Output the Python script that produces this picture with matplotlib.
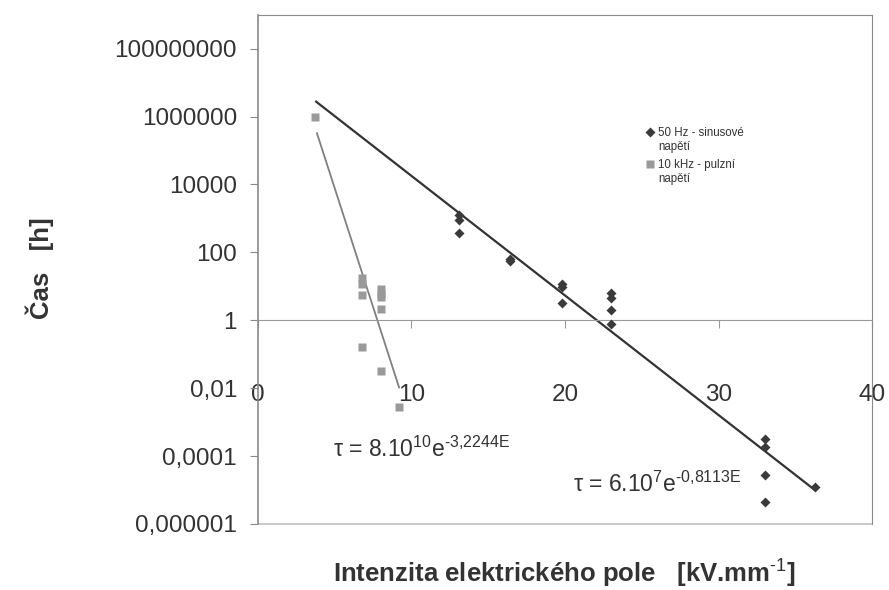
import numpy as np
import matplotlib
matplotlib.use('Agg')
import matplotlib.pyplot as plt
from matplotlib.lines import Line2D

plt.rcParams['font.family'] = ['Liberation Sans', 'DejaVu Sans']
plt.rcParams['mathtext.fontset'] = 'custom'
plt.rcParams['mathtext.rm'] = 'Liberation Sans'
plt.rcParams['mathtext.bf'] = 'Liberation Sans:bold'
plt.rcParams['mathtext.default'] = 'regular'

# 50 Hz - sinusove napeti
e_50 = [13.1, 13.1, 13.1, 16.4, 16.4, 19.8, 19.8, 19.8, 23.0, 23.0, 23.0, 23.0,
        33.0, 33.0, 33.0, 33.0, 36.3]
t_50 = [1300, 900, 380, 65, 55, 12, 9.3, 3.2, 6.2, 4.4, 2.0, 0.78,
        3.2e-4, 1.8e-4, 2.8e-5, 4.5e-6, 1.2e-5]

# 10 kHz - pulzni napeti
e_10k = [3.7, 6.8, 6.8, 6.8, 6.8, 8.0, 8.0, 8.0, 8.0, 8.0, 9.2]
t_10k = [1.0e6, 17, 12, 5.5, 0.16, 8.2, 6.0, 4.8, 2.1, 0.032, 0.0028]

# trend lines  tau = a * exp(b * E), drawn from E start to E end
fit_50 = (6e7, -0.8113, 3.8, 36.3)
fit_10k = (8e10, -3.2244, 3.85, 9.2)

y_ticks = [1e-6, 1e-4, 1e-2, 1, 1e2, 1e4, 1e6, 1e8]
y_labels = ['0,000001', '0,0001', '0,01', '1', '100', '10000', '1000000', '100000000']
x_ticks = [0, 10, 20, 30, 40]

fig = plt.figure(figsize=(8.89, 5.90), dpi=100)
ax = fig.add_axes([0.290, 0.112, 0.691, 0.863])

ax.set_yscale('log')
ax.set_xlim(0, 40)
ax.set_ylim(1e-6, 1e9)

a, b, x0, x1 = fit_50
xs = np.array([x0, x1])
ax.plot(xs, a * np.exp(b * xs), color='#333333', lw=1.6, zorder=2)
a, b, x0, x1 = fit_10k
xs = np.array([x0, x1])
ax.plot(xs, a * np.exp(b * xs), color='#808080', lw=1.3, zorder=2)

sq, = ax.plot(e_10k, t_10k, 's', color='#9a9a9a', ms=5.5, mec='none', zorder=3)
dm, = ax.plot(e_50, t_50, 'D', color='#3a3a3a', ms=5, mec='none', zorder=4)

# frame
for s in ['left', 'top', 'right']:
    ax.spines[s].set_color('#8a8a8a')
ax.spines['left'].set_linewidth(1.2)
ax.spines['bottom'].set_position(('data', 1))
ax.spines['bottom'].set_color('#9a9a9a')
ax.axhline(1e-6, color='#c0c0c0', lw=1.2, clip_on=False)

ax.set_yticks(y_ticks)
ax.set_yticklabels(y_labels)
ax.yaxis.set_minor_locator(matplotlib.ticker.NullLocator())
ax.tick_params(axis='y', direction='out', length=6, color='#8a8a8a',
               labelsize=17.5, labelcolor='#333333', pad=9)
ax.set_xticks(x_ticks)
ax.tick_params(axis='x', direction='out', length=6, color='#9a9a9a',
               labelsize=17.5, labelcolor='#333333', pad=40)

ax.text(4.9, 1.6e-4, r'$\tau$ = 8.10$^{10}$e$^{\text{-3,2244E}}$', fontsize=16.5,
        color='#333333', va='center')
ax.text(20.5, 1.5e-5, r'$\tau$ = 6.10$^{7}$e$^{\text{-0,8113E}}$', fontsize=16.5,
        color='#333333', va='center')

# legend: marker next to the first line of each two-line entry
blank = Line2D([], [], linestyle='none', marker='none')
leg_kw = dict(loc='upper left', frameon=False, fontsize=8.3, handlelength=0.6,
              handletextpad=0.4, labelspacing=0.15, labelcolor='#333333',
              borderpad=0)
leg1 = ax.legend([dm, blank], ['50 Hz - sinusové', 'napětí'],
                 bbox_to_anchor=(0.623, 0.79), **leg_kw)
ax.add_artist(leg1)
ax.legend([sq, blank], ['10 kHz - pulzní', 'napětí'],
          bbox_to_anchor=(0.623, 0.728), **leg_kw)

fig.text(0.635, 0.012, 'Intenzita elektrického pole   [kV.mm$^{\\text{-1}}$]',
         ha='center', fontsize=18.5, fontweight='bold', color='#333333')
fig.text(0.045, 0.545, 'Čas   [h]', rotation=90, ha='center', va='center',
         fontsize=18.5, fontweight='bold', color='#333333')

fig.savefig('out.png', dpi=100)
